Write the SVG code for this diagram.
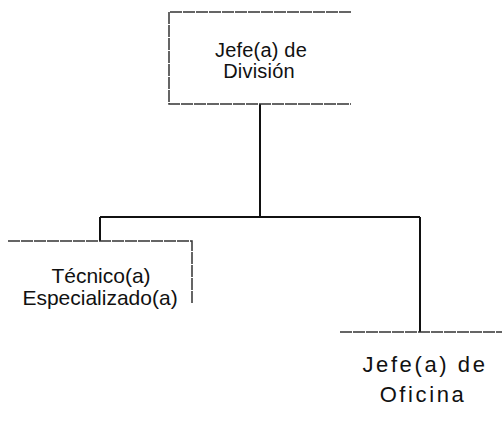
<svg xmlns="http://www.w3.org/2000/svg" width="502" height="422" viewBox="0 0 502 422">
<style>
.box{fill:none;stroke:#333;stroke-width:1.5;stroke-dasharray:12 1}
.con{fill:none;stroke:#111;stroke-width:2}
text{font-family:"Liberation Sans",Arial,sans-serif;fill:#111;text-anchor:middle}
.t1{font-size:20px;letter-spacing:0.2px}
.t2{font-size:21px}
.t3{font-size:22px;letter-spacing:2.6px}
</style>
<rect width="502" height="422" fill="#fff"/>
<g id="connectors">
<path class="con" d="M260 104V217M100 217H420M100 217V241M420 217V332"/>
</g>
<g id="jefe-division">
<path class="box" d="M351 12H169V104H351"/>
<text class="t1" x="261" y="57">Jefe(a) de</text>
<text class="t1" x="259" y="78">División</text>
</g>
<g id="tecnico">
<path class="box" d="M8 241H192V304"/>
<text class="t2" x="101" y="283">Técnico(a)</text>
<text class="t2" x="100" y="305">Especializado(a)</text>
</g>
<g id="jefe-oficina">
<path class="box" d="M340 332H502"/>
<text class="t3" x="425" y="372">Jefe(a) de</text>
<text class="t3" x="423" y="402">Oficina</text>
</g>
</svg>
